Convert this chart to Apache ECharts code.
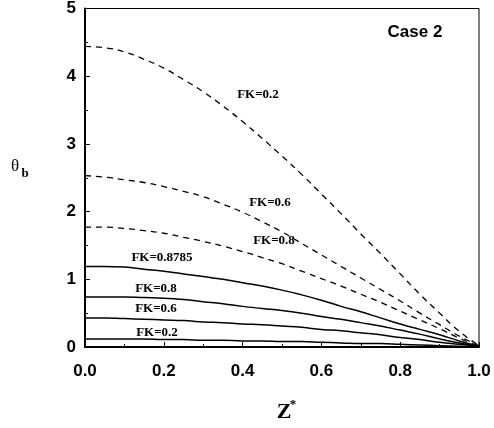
<!DOCTYPE html>
<html><head><meta charset="utf-8">
<script src="https://cdn.jsdelivr.net/npm/echarts@6/dist/echarts.min.js"></script>
<style>html,body{margin:0;padding:0;background:#fff}#c{width:494px;height:428px}</style>
</head><body><div id="c"></div>
<script>
var zStar = [0,0.05,0.1,0.15,0.2,0.25,0.3,0.35,0.4,0.45,0.5,0.55,0.6,0.65,0.7,0.75,0.8,0.85,0.9,0.95,1.0];
var dashFK02 = [4.44,4.42,4.36,4.25,4.12,3.95,3.77,3.56,3.33,3.08,2.82,2.55,2.26,1.97,1.67,1.38,1.08,0.78,0.50,0.23,0.02];
var dashFK06 = [2.53,2.51,2.47,2.43,2.37,2.30,2.22,2.11,1.99,1.85,1.70,1.53,1.36,1.19,1.02,0.85,0.68,0.50,0.33,0.16,0.02];
var dashFK08 = [1.77,1.77,1.75,1.72,1.68,1.62,1.56,1.49,1.41,1.32,1.23,1.12,1.01,0.90,0.78,0.66,0.53,0.40,0.27,0.13,0.01];
var solidFK08785 = [1.19,1.19,1.18,1.15,1.12,1.08,1.04,1.00,0.95,0.90,0.84,0.77,0.69,0.60,0.52,0.43,0.34,0.26,0.18,0.09,0.01];
var solidFK08 = [0.74,0.74,0.74,0.73,0.72,0.70,0.67,0.64,0.60,0.57,0.54,0.50,0.45,0.41,0.36,0.31,0.25,0.19,0.12,0.06,0.01];
var solidFK06 = [0.43,0.43,0.42,0.41,0.40,0.39,0.37,0.36,0.34,0.33,0.31,0.29,0.26,0.24,0.21,0.18,0.14,0.11,0.07,0.04,0.01];
var solidFK02 = [0.12,0.12,0.12,0.12,0.11,0.11,0.10,0.10,0.09,0.09,0.08,0.08,0.07,0.06,0.05,0.05,0.04,0.03,0.02,0.01,0.0];
var xTicks = [0,0.2,0.4,0.6,0.8,1.0];
var yTicks = [0,1,2,3,4,5];

function pairs(ys){ return zStar.map(function(x,i){ return [x, ys[i]]; }); }
function ser(ys, dashed){
  return {type:'line', data:pairs(ys), smooth:true, showSymbol:false, silent:true,
    lineStyle:{color:'#000', width: dashed?1.3:1.5, type: dashed?[6,5]:'solid'}};
}
var chart = echarts.init(document.getElementById('c'), null, {renderer:'canvas'});
var tickFont = {color:'#000', fontFamily:'Liberation Sans, Arial, sans-serif', fontWeight:'bold', fontSize:17};
var lblFont = 'bold 13px "Liberation Serif", "Times New Roman", serif';
function lbl(x, y, t){ return {type:'text', x:x, y:y, style:{text:t, font:lblFont, fill:'#000', align:'center', verticalAlign:'middle'}}; }
chart.setOption({
  animation:false,
  backgroundColor:'#fff',
  grid:{left:85, right:15, top:7, bottom:81, show:true, borderColor:'#000', borderWidth:1},
  xAxis:{type:'value', min:0, max:1, interval:0.2,
    axisLine:{lineStyle:{color:'#000', width:2}},
    axisTick:{inside:true, length:5, lineStyle:{color:'#000'}},
    minorTick:{show:true, splitNumber:2, length:3, lineStyle:{color:'#000'}},
    splitLine:{show:false},
    axisLabel:Object.assign({margin:16, formatter:function(v){return v.toFixed(1);}}, tickFont)},
  yAxis:{type:'value', min:0, max:5, interval:1,
    axisLine:{show:true, lineStyle:{color:'#000', width:2}},
    axisTick:{show:true, inside:true, length:5, lineStyle:{color:'#000'}},
    minorTick:{show:true, splitNumber:2, length:3, lineStyle:{color:'#000'}},
    splitLine:{show:false},
    axisLabel:Object.assign({margin:9, padding:[4,0,0,0], formatter:function(v){return String(v);}}, tickFont)},
  series:[ser(dashFK02,true), ser(dashFK06,true), ser(dashFK08,true),
          ser(solidFK08785,false), ser(solidFK08,false), ser(solidFK06,false), ser(solidFK02,false)],
  graphic:[
    lbl(258,95,'FK=0.2'), lbl(270,203,'FK=0.6'), lbl(274,241,'FK=0.8'),
    lbl(162,258,'FK=0.8785'), lbl(156,289,'FK=0.8'), lbl(156,309,'FK=0.6'), lbl(157,333,'FK=0.2'),
    {type:'text', x:415, y:32, style:{text:'Case 2', font:'bold 17px "Liberation Sans", Arial, sans-serif', fill:'#000', align:'center', verticalAlign:'middle'}},
    {type:'text', x:15, y:167, style:{text:'θ', font:'17px "Liberation Serif", "Times New Roman", serif', fill:'#000', align:'center', verticalAlign:'middle'}},
    {type:'text', x:25, y:174, style:{text:'b', font:'bold 13px "Liberation Serif", "Times New Roman", serif', fill:'#000', align:'center', verticalAlign:'middle'}},
    {type:'text', x:284, y:412, style:{text:'Z', font:'bold 22px "Liberation Serif", "Times New Roman", serif', fill:'#000', align:'center', verticalAlign:'middle'}},
    {type:'text', x:293, y:405, style:{text:'*', font:'bold 13px "Liberation Serif", "Times New Roman", serif', fill:'#000', align:'center', verticalAlign:'middle'}}
  ]
});
</script></body></html>
